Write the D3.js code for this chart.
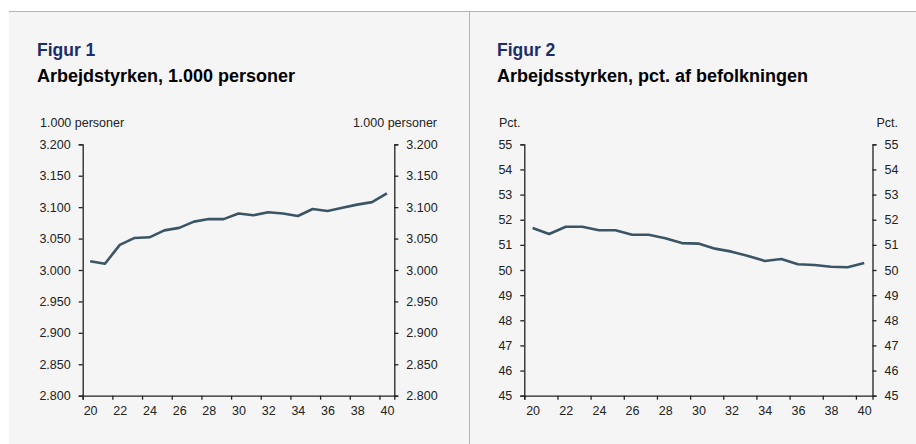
<!DOCTYPE html>
<html>
<head>
<meta charset="utf-8">
<script src="https://cdn.jsdelivr.net/npm/d3@7"></script>
<style>
    body { margin: 0; background: #ffffff; }
    text { font-family: "Liberation Sans", Arial, sans-serif; }
</style>
</head>
<body>
<div id="chart-area"></div>
<script>
// years on the x axis
var years = [20, 21, 22, 23, 24, 25, 26, 27, 28, 29, 30, 31, 32, 33, 34, 35, 36, 37, 38, 39, 40];

// Figur 1: arbejdsstyrken, 1.000 personer
var labourForce = [3.014, 3.010, 3.040, 3.051, 3.052, 3.063, 3.067, 3.077, 3.081, 3.081, 3.090,
    3.087, 3.092, 3.090, 3.086, 3.097, 3.094, 3.099, 3.104, 3.108, 3.122];

// Figur 2: arbejdsstyrken, pct. af befolkningen
var labourShare = [51.67, 51.43, 51.72, 51.72, 51.58, 51.58, 51.40, 51.40, 51.26, 51.07, 51.05,
    50.85, 50.73, 50.56, 50.36, 50.44, 50.23, 50.20, 50.13, 50.11, 50.28];

var ticks1 = [2.8, 2.85, 2.9, 2.95, 3.0, 3.05, 3.1, 3.15, 3.2];
var ticks2 = [45, 46, 47, 48, 49, 50, 51, 52, 53, 54, 55];
var xLabels = [20, 22, 24, 26, 28, 30, 32, 34, 36, 38, 40];

var W = 916, H = 444;

var svg = d3.select("#chart-area").append("svg")
    .attr("width", W)
    .attr("height", H);

// panel background + frame lines
svg.append("rect")
    .attr("x", 9).attr("y", 11)
    .attr("width", W - 9).attr("height", H - 11)
    .attr("fill", "#f5f5f5");
svg.append("line")
    .attr("x1", 9).attr("x2", W)
    .attr("y1", 11.5).attr("y2", 11.5)
    .attr("stroke", "#b4b4b4").attr("stroke-width", 1);
svg.append("line")
    .attr("x1", 469.5).attr("x2", 469.5)
    .attr("y1", 12).attr("y2", H)
    .attr("stroke", "#b4b4b4").attr("stroke-width", 1);

function drawPanel(opt) {
    var g = svg.append("g");

    g.append("text")
        .attr("x", opt.textX)
        .attr("y", 56)
        .attr("font-size", "17.5px")
        .attr("font-weight", "bold")
        .attr("fill", "#1b2e6b")
        .text(opt.fig);

    g.append("text")
        .attr("x", opt.textX)
        .attr("y", 81.5)
        .attr("font-size", "18px")
        .attr("font-weight", "bold")
        .attr("fill", "#000")
        .text(opt.title);

    g.append("text")
        .attr("x", opt.unitLeft)
        .attr("y", 127)
        .attr("font-size", "12.5px")
        .attr("fill", "#222")
        .text(opt.unit);

    g.append("text")
        .attr("x", opt.unitRight)
        .attr("y", 127)
        .attr("font-size", "12.5px")
        .attr("text-anchor", "end")
        .attr("fill", "#222")
        .text(opt.unit);

    var x = d3.scaleLinear()
        .domain([19.5, 40.5])
        .range([opt.left, opt.right]);

    var y = d3.scaleLinear()
        .domain(opt.domain)
        .range([395.7, 144.3]);

    var leftAxis = d3.axisLeft(y)
        .tickValues(opt.ticks)
        .tickSize(4)
        .tickPadding(8)
        .tickFormat(opt.format);
    var rightAxis = d3.axisRight(y)
        .tickValues(opt.ticks)
        .tickSize(4)
        .tickPadding(8)
        .tickFormat(opt.format);

    var ga = g.append("g")
        .attr("class", "left axis")
        .attr("transform", "translate(" + opt.left + ",0)")
        .call(leftAxis);
    var gb = g.append("g")
        .attr("class", "right axis")
        .attr("transform", "translate(" + opt.right + ",0)")
        .call(rightAxis);

    // tick marks on category boundaries
    var bottomAxis = d3.axisBottom(x)
        .tickValues(xLabels.map(function(d) { return d - 0.5; }))
        .tickSize(4)
        .tickFormat("");
    var gc = g.append("g")
        .attr("class", "bottom axis")
        .attr("transform", "translate(0,395.7)")
        .call(bottomAxis);

    // labels in category centres
    var labelAxis = d3.axisBottom(x)
        .tickValues(xLabels)
        .tickSize(0)
        .tickPadding(10)
        .tickFormat(function(d) { return d; });
    var gd = g.append("g")
        .attr("class", "bottom labels")
        .attr("transform", "translate(0,395.7)")
        .call(labelAxis);
    gd.select(".domain").remove();

    [ga, gb, gc, gd].forEach(function(a) {
        a.selectAll(".domain").attr("stroke", "#222").attr("stroke-width", 1.3);
        a.selectAll(".tick line").attr("stroke", "#222").attr("stroke-width", 1.3);
        a.selectAll("text")
            .attr("font-size", "12.5px")
            .attr("fill", "#222")
            .style("font-family", "'Liberation Sans', Arial, sans-serif");
    });

    var line = d3.line()
        .x(function(d, i) { return x(years[i]); })
        .y(function(d) { return y(d); });

    g.append("path")
        .datum(opt.values)
        .attr("d", line)
        .attr("fill", "none")
        .attr("stroke", "#3b5566")
        .attr("stroke-width", 2.6)
        .attr("stroke-linejoin", "round");
}

drawPanel({
    fig: "Figur 1",
    title: "Arbejdstyrken, 1.000 personer",
    unit: "1.000 personer",
    textX: 37, unitLeft: 40, unitRight: 437,
    left: 82.7, right: 394.3,
    domain: [2.8, 3.2],
    ticks: ticks1,
    values: labourForce,
    format: function(d) { return d3.format(".3f")(d); }
});

drawPanel({
    fig: "Figur 2",
    title: "Arbejdsstyrken, pct. af befolkningen",
    unit: "Pct.",
    textX: 497, unitLeft: 499, unitRight: 898,
    left: 524.3, right: 872.5,
    domain: [45, 55],
    ticks: ticks2,
    values: labourShare,
    format: function(d) { return d; }
});
</script>
</body>
</html>
